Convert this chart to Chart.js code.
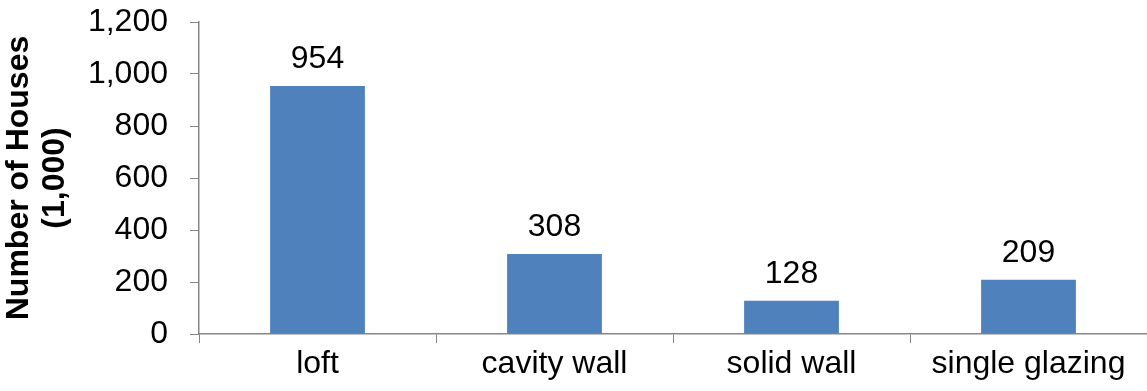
<!DOCTYPE html>
<html>
<head>
<meta charset="utf-8">
<script src="https://cdn.jsdelivr.net/npm/chart.js@4.4.1/dist/chart.umd.min.js"></script>
<style>
  html, body { margin: 0; padding: 0; background: #ffffff; overflow: hidden; }
  #wrap { width: 1147px; height: 391px; position: relative; }
</style>
</head>
<body>
<div id="wrap"><canvas id="chart"></canvas></div>
<script>
// Insulation measures and the number of houses (thousands) for each
const categories = ['loft', 'cavity wall', 'solid wall', 'single glazing'];
const houses = [954, 308, 128, 209];
const yTicks = [0, 200, 400, 600, 800, 1000, 1200];
const yTitle = ['Number of Houses', '(1,000)'];

const FONT = "'Liberation Sans', Arial, sans-serif";
const FONT_SIZE = 32;
const AXIS_GREY = '#868686';
const BAR_BLUE = '#4F81BD';

// Draws the value above each bar
const valueLabels = {
  id: 'valueLabels',
  afterDatasetsDraw(chart) {
    const ctx = chart.ctx;
    ctx.save();
    ctx.font = FONT_SIZE + 'px ' + FONT;
    ctx.fillStyle = '#000000';
    ctx.textAlign = 'center';
    ctx.textBaseline = 'alphabetic';
    chart.getDatasetMeta(0).data.forEach((bar, i) => {
      ctx.fillText(String(houses[i]), bar.x, bar.y - 18);
    });
    ctx.restore();
  }
};

new Chart(document.getElementById('chart'), {
  type: 'bar',
  data: {
    labels: categories,
    datasets: [{
      data: houses,
      backgroundColor: BAR_BLUE,
      borderWidth: 0,
      barPercentage: 0.4,
      categoryPercentage: 1.0
    }]
  },
  options: {
    responsive: true,
    maintainAspectRatio: false,
    animation: false,
    layout: { padding: { top: 22, right: 0, bottom: 0, left: 0 } },
    plugins: {
      legend: { display: false },
      tooltip: { enabled: false }
    },
    scales: {
      x: {
        grid: {
          display: true,
          drawOnChartArea: false,
          drawTicks: true,
          tickLength: 9,
          color: AXIS_GREY,
          offset: true
        },
        border: { display: true, color: AXIS_GREY, width: 1.5 },
        ticks: {
          color: '#000000',
          font: { family: FONT, size: FONT_SIZE },
          padding: 2,
          maxRotation: 0,
          autoSkip: false
        },
        afterFit(scale) {
          scale.height = 57;
          scale.paddingLeft = 0;
          scale.paddingRight = 0;
        }
      },
      y: {
        min: 0,
        max: 1200,
        afterBuildTicks(scale) { scale.ticks = yTicks.map(v => ({ value: v })); },
        grid: {
          display: true,
          drawOnChartArea: false,
          drawTicks: true,
          tickLength: 9,
          color: AXIS_GREY
        },
        border: { display: true, color: AXIS_GREY, width: 1.5 },
        ticks: {
          color: '#000000',
          font: { family: FONT, size: FONT_SIZE },
          padding: 22,
          callback: v => v.toLocaleString('en-US')
        },
        title: {
          display: true,
          text: yTitle,
          color: '#000000',
          font: { family: FONT, size: FONT_SIZE, weight: 'bold', lineHeight: 1.1 },
          padding: { top: 2, bottom: 0 }
        },
        afterFit(scale) {
          scale.width = 199;
          // the value axis spans the full plot height; label overflow is allowed
          scale.paddingTop = 0;
          scale.paddingBottom = 0;
        }
      }
    }
  },
  plugins: [valueLabels]
});
</script>
</body>
</html>
